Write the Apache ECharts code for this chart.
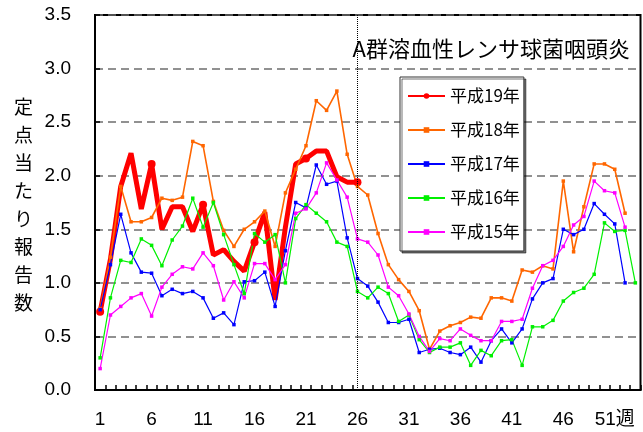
<!DOCTYPE html>
<html><head><meta charset="utf-8">
<script src="https://cdn.jsdelivr.net/npm/echarts@6/dist/echarts.min.js"></script>
<style>html,body{margin:0;padding:0;background:#fff}#c{width:643px;height:432px}</style>
</head><body><div id="c"></div>
<script>
const weeks = Array.from({length:53},(_, i)=>String(i+1));
const tickLabels = {'1':'1','6':'6','11':'11','16':'16','21':'21','26':'26','31':'31','36':'36','41':'41','46':'46','51':'51週'};
const yTicks = [0,0.5,1.0,1.5,2.0,2.5,3.0,3.5];
const seriesNames = ['平成19年','平成18年','平成17年','平成16年','平成15年'];
const h19 = [0.73,1.22,1.90,2.21,1.69,2.11,1.50,1.71,1.71,1.48,1.73,1.26,1.31,1.20,1.11,1.38,1.66,0.84,1.52,2.11,2.16,2.23,2.23,1.99,1.94,1.94];
const h18 = [0.76,1.24,1.90,1.57,1.57,1.61,1.79,1.77,1.80,2.32,2.28,1.76,1.49,1.34,1.50,1.57,1.67,1.34,1.84,2.06,2.28,2.70,2.61,2.79,2.20,1.90,1.82,1.46,1.17,1.03,0.92,0.74,0.38,0.55,0.60,0.63,0.68,0.67,0.86,0.86,0.83,1.12,1.10,1.16,1.13,1.95,1.29,1.71,2.11,2.11,2.06,1.65];
const h17 = [0.75,1.17,1.64,1.28,1.10,1.09,0.88,0.94,0.90,0.92,0.86,0.67,0.72,0.61,1.01,1.02,1.10,0.78,1.30,1.75,1.70,2.10,1.92,1.95,1.42,1.04,0.97,0.82,0.63,0.63,0.66,0.35,0.38,0.39,0.35,0.33,0.40,0.26,0.46,0.57,0.44,0.57,0.85,1.00,1.04,1.50,1.45,1.50,1.74,1.64,1.55,1.00];
const h16 = [0.30,0.86,1.21,1.19,1.41,1.35,1.16,1.40,1.53,1.79,1.52,1.75,1.45,1.17,0.90,1.46,1.38,1.45,1.00,1.60,1.73,1.65,1.57,1.38,1.34,0.92,0.86,0.96,0.90,0.64,0.70,0.47,0.35,0.40,0.40,0.44,0.23,0.37,0.32,0.46,0.47,0.23,0.59,0.59,0.65,0.83,0.91,0.95,1.08,1.56,1.48,1.49,1.00];
const h15 = [0.20,0.70,0.78,0.86,0.90,0.69,0.96,1.08,1.15,1.13,1.28,1.16,0.84,1.01,0.86,1.18,1.18,1.03,1.17,1.65,1.69,1.84,2.12,1.96,1.80,1.41,1.38,1.26,0.96,0.88,0.71,0.50,0.36,0.48,0.46,0.57,0.51,0.46,0.46,0.64,0.64,0.66,0.95,1.16,1.21,1.34,1.54,1.62,1.95,1.86,1.84,1.52];
const markWeek = '26';
const titleText = 'A群溶血性レンサ球菌咽頭炎';
const yName = '定点当たり報告数';

const colors = ['#FF0000','#FF6600','#0000FF','#00F000','#FF00FF'];
const dataSets = [h19,h18,h17,h16,h15];
const series = dataSets.map((d,i)=>{
  const s = {
    name: seriesNames[i], type:'line', data:d,
    symbol: i===0?'circle':'rect', symbolSize: i===0?8:3.5,
    lineStyle:{color:colors[i], width: i===0?5:(i===1?1.6:1.2)},
    itemStyle:{color:colors[i]},
    animation:false
  };
  if(i===0){
    s.markLine = {silent:true, symbol:['none','none'], label:{show:false},
      lineStyle:{color:'#000', type:'dotted', width:1},
      data:[{xAxis: markWeek}]};
  }
  return s;
});

const chart = echarts.init(document.getElementById('c'));
chart.setOption({
  animation:false,
  textStyle:{fontFamily:'"Noto Sans CJK JP", "Liberation Sans", sans-serif'},
  title:{text:titleText, right:8, top:33, textStyle:{fontSize:22, fontWeight:'normal', color:'#000', fontFamily:'"Noto Sans CJK JP", sans-serif'}},
  grid:{left:95, top:15, right:2.5, bottom:42, show:true, borderColor:'#000', borderWidth:2, backgroundColor:'transparent'},
  legend:{
    orient:'vertical', left:400, top:77,
    data: seriesNames,
    itemWidth:37, itemHeight:7, itemGap:14,
    padding:[9,4,9,7],
    backgroundColor:'#fff', borderColor:'#333', borderWidth:1,
    shadowColor:'rgba(0,0,0,0.55)', shadowOffsetX:2, shadowOffsetY:2, shadowBlur:0,
    textStyle:{fontSize:17, lineHeight:20, color:'#000', fontFamily:'"Noto Sans CJK JP", sans-serif'}
  },
  xAxis:{
    type:'category', data:weeks, boundaryGap:true,
    axisLine:{show:true, lineStyle:{color:'#000', width:2}},
    axisTick:{show:true, inside:true, length:5, interval:0, lineStyle:{color:'#000', width:1.5}},
    axisLabel:{interval:4, margin:20, fontSize:19, color:'#000', fontFamily:'"Liberation Sans", "Noto Sans CJK JP", sans-serif',
      formatter:(v)=>tickLabels[v]!==undefined?tickLabels[v]:''},
    splitLine:{show:false}
  },
  yAxis:{
    type:'value', min:yTicks[0], max:yTicks[yTicks.length-1], interval:0.5,
    axisLine:{show:true, lineStyle:{color:'#000', width:2}},
    axisTick:{show:true, inside:true, length:5, lineStyle:{color:'#000', width:1.5}},
    axisLabel:{margin:24, fontSize:19, color:'#000', fontFamily:'"Liberation Sans", sans-serif', padding:[6,0,0,0],
      formatter:(v)=>v.toFixed(1)},
    splitLine:{show:true, lineStyle:{color:'#6e6e6e', width:1.5, type:[8,5]}}
  },
  graphic:[{type:'text', left:14, top:93, style:{text:yName.split('').join('\n'), font:'19px "Noto Sans CJK JP", sans-serif', lineHeight:28, fill:'#000', textAlign:'left'}}],
  series: series
});
</script></body></html>
